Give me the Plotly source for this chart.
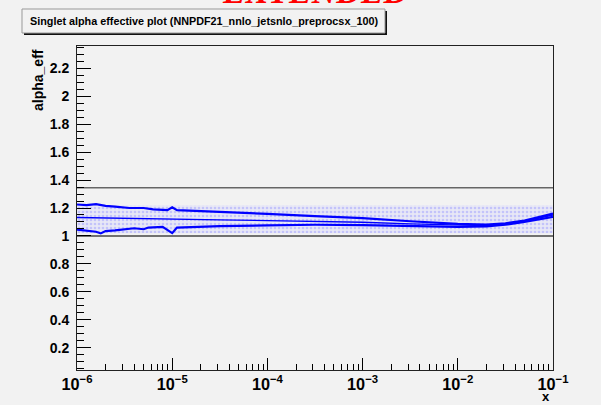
import plotly.graph_objects as go

# ---- data (log10 x positions and alpha_eff values) ----
logx_upper = [-6.0, -5.9, -5.8, -5.7, -5.6, -5.45, -5.3, -5.2, -5.05, -5.0, -4.95, -4.5, -4.0, -3.5, -3.0, -2.5, -2.0, -1.7, -1.5, -1.3, -1.0]
upper = [1.225, 1.22, 1.227, 1.215, 1.21, 1.20, 1.20, 1.19, 1.185, 1.205, 1.185, 1.17, 1.158, 1.142, 1.127, 1.105, 1.087, 1.082, 1.09, 1.11, 1.16]

logx_central = [-6.0, -5.5, -5.0, -4.5, -4.0, -3.5, -3.0, -2.5, -2.0, -1.7, -1.5, -1.3, -1.0]
central = [1.132, 1.125, 1.12, 1.115, 1.11, 1.105, 1.098, 1.087, 1.076, 1.074, 1.085, 1.105, 1.15]

logx_lower = [-6.0, -5.9, -5.8, -5.75, -5.7, -5.6, -5.5, -5.4, -5.3, -5.25, -5.1, -5.0, -4.95, -4.5, -4.0, -3.5, -3.0, -2.5, -2.0, -1.7, -1.5, -1.3, -1.0]
lower = [1.045, 1.035, 1.03, 1.018, 1.035, 1.04, 1.05, 1.055, 1.048, 1.06, 1.065, 1.02, 1.06, 1.07, 1.075, 1.08, 1.078, 1.07, 1.065, 1.068, 1.08, 1.10, 1.137]

band_x = [1e-6, 1e-1]
band_low = [1.02, 1.02]
band_high = [1.22, 1.22]

ref_x = [1e-6, 1e-1]
ref_one = [1.0, 1.0]
ref_top = [1.345, 1.345]

x_range_log = [-6, -1]
y_range = [0.04, 2.36]

title_text = "Singlet alpha effective plot (NNPDF21_nnlo_jetsnlo_preprocsx_100)"
banner_text = "EXTENDED"

upper_x = [10 ** v for v in logx_upper]
central_x = [10 ** v for v in logx_central]
lower_x = [10 ** v for v in logx_lower]

fig = go.Figure()

# error band (dotted pattern)
fig.add_trace(go.Scatter(x=band_x, y=band_low, mode="lines", line=dict(width=0),
                         showlegend=False, hoverinfo="skip"))
fig.add_trace(go.Scatter(x=band_x, y=band_high, mode="lines", line=dict(width=0),
                         fill="tonexty", fillcolor="rgba(225,225,245,0.9)",
                         fillpattern=dict(shape=".", fgcolor="rgba(140,140,255,0.8)",
                                          bgcolor="rgba(232,232,246,1)", size=4, solidity=0.35),
                         showlegend=False, hoverinfo="skip"))

# reference lines
fig.add_trace(go.Scatter(x=ref_x, y=ref_one, mode="lines", line=dict(color="#444444", width=1.5),
                         showlegend=False))
fig.add_trace(go.Scatter(x=ref_x, y=ref_top, mode="lines", line=dict(color="#666666", width=1.5),
                         showlegend=False))

# curves
fig.add_trace(go.Scatter(x=upper_x, y=upper, mode="lines", line=dict(color="#0000ff", width=2.2),
                         showlegend=False))
fig.add_trace(go.Scatter(x=central_x, y=central, mode="lines", line=dict(color="#0000ff", width=1.3),
                         showlegend=False))
fig.add_trace(go.Scatter(x=lower_x, y=lower, mode="lines", line=dict(color="#0000ff", width=2.2),
                         showlegend=False))

ytickfont = dict(family="Liberation Sans, Arial, sans-serif", size=14, color="black", weight="bold")
xtickfont = dict(family="Liberation Sans, Arial, sans-serif", size=13, color="black", weight="bold")

fig.update_xaxes(type="log", range=x_range_log, dtick=1, exponentformat="power",
                 showgrid=False, zeroline=False, ticks="inside", ticklen=12, tickcolor="black",
                 tickfont=xtickfont, showline=True, linecolor="#222222", linewidth=1, mirror=True,
                 minor=dict(dtick="D1", ticks="inside", ticklen=6, tickcolor="black", showgrid=False),
                 ticklabelstandoff=0)
fig.update_yaxes(range=y_range, tick0=0.2, dtick=0.2, showgrid=False, zeroline=False,
                 ticks="inside", ticklen=14, tickcolor="black", tickfont=ytickfont,
                 showline=True, linecolor="#222222", linewidth=1, mirror=True,
                 minor=dict(tick0=0, dtick=0.05, ticks="inside", ticklen=7, tickcolor="black", showgrid=False),
                 ticklabelstandoff=4)

W, H = 601, 405
L, R, T, B = 77, 48, 46, 35
pw, ph = W - L - R, H - T - B

def px_x(p):
    return (p - L) / pw

def px_y(p):
    return (H - B - p) / ph

shapes = [
    # title box shadow
    dict(type="rect", xref="paper", yref="paper", x0=px_x(24), x1=px_x(387), y0=px_y(35), y1=px_y(11),
         fillcolor="#111111", line=dict(width=0), layer="above"),
    # title box
    dict(type="rect", xref="paper", yref="paper", x0=px_x(22), x1=px_x(385), y0=px_y(33), y1=px_y(9),
         fillcolor="#f2f2f2", line=dict(color="#999999", width=1), layer="above"),
]

annotations = [
    dict(text=title_text, xref="paper", yref="paper", x=px_x(204), y=px_y(21), showarrow=False,
         xanchor="center", yanchor="middle",
         font=dict(family="Liberation Sans, Arial, sans-serif", size=10.8, color="black", weight=600)),
    dict(text=banner_text, xref="paper", yref="paper", x=px_x(315), y=px_y(11.5), showarrow=False,
         xanchor="center", yanchor="bottom",
         font=dict(family="Liberation Serif, Times New Roman, serif", size=34, color="#ff0000",
                   weight="bold", style="italic")),
    dict(text="alpha_eff", xref="paper", yref="paper", x=px_x(38), y=px_y(47), showarrow=False,
         textangle=-90, xanchor="center", yanchor="top",
         font=dict(family="Liberation Sans, Arial, sans-serif", size=14, color="black", weight="bold")),
    dict(text="x", xref="paper", yref="paper", x=px_x(552), y=px_y(406), showarrow=False,
         xanchor="right", yanchor="bottom",
         font=dict(family="Liberation Sans, Arial, sans-serif", size=13, color="black", weight="bold")),
]

fig.update_layout(width=W, height=H, margin=dict(l=L, r=R, t=T, b=B, pad=0),
                  paper_bgcolor="#f2f2f2", plot_bgcolor="#f2f2f2",
                  shapes=shapes, annotations=annotations, showlegend=False)

fig.write_html("out.html")
